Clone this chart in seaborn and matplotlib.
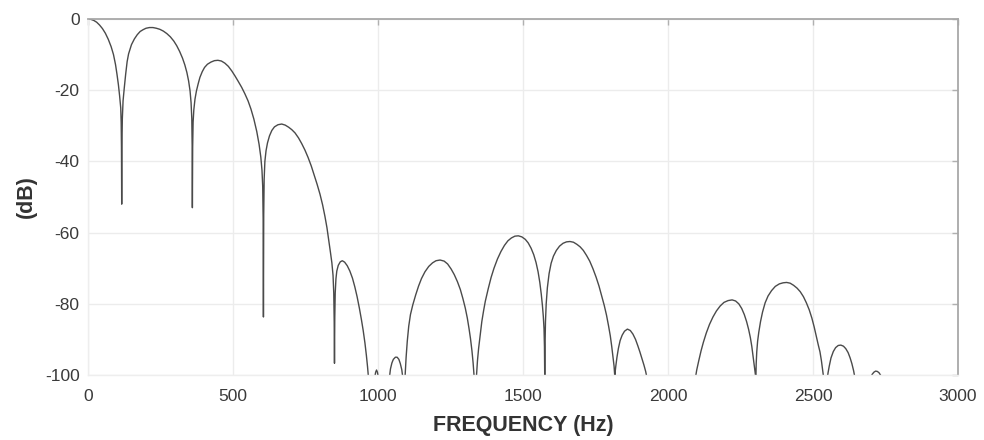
import matplotlib
matplotlib.use("Agg")
import matplotlib.pyplot as plt
import seaborn as sns
import pandas as pd

# Frequency (Hz) and magnitude (dB), lobe by lobe
freq_hz = [
    # main lobe
    0, 10, 20, 30, 40, 50, 60, 70, 80, 88, 95, 100, 105, 109, 113, 114.5, 115.5, 116.3,
    # lobe 2
    117, 118.5, 121, 125, 130, 135, 140, 150, 160, 170, 180, 190, 200, 212, 224, 236, 248, 260,
    272, 284, 296, 306, 316, 326, 334, 341, 347, 352, 355.5, 358, 359.3, 360,
    # lobe 3
    361, 362.5, 365, 369, 374, 380, 386, 394, 402, 412, 424, 436, 448, 460, 472, 484, 496, 507,
    518, 530, 541, 552, 562, 572, 582, 590, 596, 600, 602.5, 604, 605,
    # lobe 4
    606, 607.5, 610, 614, 619, 626, 634, 643, 655, 668, 680, 692, 703, 714, 726, 737, 748, 759,
    770, 780, 790, 800, 809, 817, 824, 830, 836, 841, 845, 847.5, 849, 850,
    # lobe 5
    851, 852.5, 855, 858, 863, 870, 877, 885, 894, 903, 912, 920, 928, 936, 943, 949, 955, 960,
    964, 968, 975,
    # tiny bump near 1000 Hz
    988, 992, 995, 998, 1002, 1015,
    # small lobe near 1060 Hz
    1039, 1043, 1048, 1053, 1060, 1066, 1072, 1077, 1082, 1086, 1089,
    # lobe 6
    1093, 1097, 1101, 1106, 1112, 1120, 1130, 1140, 1150, 1162, 1175, 1188, 1200, 1214, 1228,
    1240, 1252, 1263, 1274, 1284, 1293, 1301, 1308, 1314, 1319, 1324, 1328, 1332, 1336,
    # lobe 7
    1339, 1343, 1347, 1352, 1358, 1364, 1370, 1380, 1390, 1400, 1412, 1424, 1436, 1448, 1460,
    1472, 1484, 1496, 1508, 1518, 1528, 1537, 1545, 1552, 1558, 1563, 1567, 1570, 1572.5, 1574, 1575,
    # lobe 8
    1576, 1577.5, 1580, 1584, 1590, 1597, 1605, 1615, 1626, 1638, 1650, 1662, 1674, 1686, 1697,
    1708, 1719, 1730, 1741, 1752, 1762, 1771, 1780, 1788, 1795, 1801, 1806, 1810, 1814, 1817,
    # lobe 9
    1818, 1820, 1824, 1829, 1835, 1842, 1850, 1860, 1870, 1879, 1888, 1896, 1903, 1910, 1917,
    1923, 1928, 1940,
    # lobe 10
    2080, 2094, 2099, 2106, 2114, 2122, 2132, 2143, 2155, 2167, 2180, 2193, 2207, 2221, 2233,
    2244, 2254, 2263, 2271, 2278, 2284, 2289, 2293, 2297, 2300, 2303,
    # lobe 11
    2304, 2306, 2309, 2313, 2319, 2326, 2335, 2345, 2357, 2370, 2384, 2397, 2409, 2421, 2433,
    2445, 2456, 2467, 2477, 2487, 2496, 2504, 2511, 2518, 2524, 2529, 2533, 2537, 2543,
    # lobe 12
    2549, 2552, 2556, 2562, 2570, 2578, 2587, 2596, 2605, 2613, 2621, 2628, 2634, 2640, 2645, 2660,
    # tiny bump near 2720 Hz
    2698, 2704, 2710, 2716, 2722, 2728, 2734, 2740, 2760, 3000,
]
level_db = [
    # main lobe
    0, -0.1, -0.4, -0.9, -1.7, -2.7, -4.0, -5.7, -7.8, -10, -12.8, -15.5, -18.5, -21.5, -25, -29, -36, -52,
    # lobe 2
    -36, -28, -23, -19.5, -15.5, -12, -9.8, -7.2, -5.6, -4.4, -3.5, -3, -2.6, -2.4, -2.4, -2.6, -2.9, -3.4,
    -4.1, -5.0, -6.2, -7.5, -9.1, -11.0, -12.9, -15.0, -17.4, -20.2, -23.5, -28, -36, -53,
    # lobe 3
    -36, -29, -25.5, -22.5, -20.2, -18.2, -16.4, -14.8, -13.6, -12.7, -12.1, -11.7, -11.6, -11.8, -12.4, -13.3, -14.6, -16.0,
    -17.5, -19.2, -21.0, -23.0, -25.3, -28.1, -31.6, -35.2, -38.8, -42.5, -47, -56, -83.7,
    # lobe 4
    -55, -45, -40, -37, -34.8, -32.8, -31.3, -30.3, -29.7, -29.5, -29.8, -30.4, -31.1, -32, -33.4, -35.0, -36.8, -38.9,
    -41.3, -43.8, -46.4, -49.2, -52.2, -55.4, -58.6, -62, -65.5, -68.5, -72, -77, -85, -96.7,
    # lobe 5
    -84, -77, -73, -70.8, -69.2, -68.2, -67.9, -68.3, -69.3, -70.8, -72.8, -75.2, -78, -81.3, -84.5, -87.5, -91, -94.5,
    -97.7, -101.5, -106,
    # tiny bump near 1000 Hz
    -101, -99.2, -98.6, -99.2, -101, -106,
    # small lobe near 1060 Hz
    -101, -98.3, -96.6, -95.6, -95.0, -95.0, -95.6, -96.8, -98.5, -101, -104,
    # lobe 6
    -101, -95, -90.5, -86.3, -83, -80.3, -77.5, -75, -72.9, -71, -69.5, -68.5, -67.9, -67.7, -68,
    -68.8, -70.2, -71.8, -73.8, -76, -78.6, -81.2, -84, -87, -89.8, -93.2, -96.6, -101, -104,
    # lobe 7
    -101, -96, -92.5, -89, -85, -82, -79.3, -75.8, -72.6, -70, -67.4, -65.3, -63.6, -62.3, -61.5,
    -61, -60.9, -61.2, -61.9, -62.9, -64.4, -66.2, -68.4, -71, -74, -77.3, -80.5, -83.5, -87, -92, -101,
    # lobe 8
    -92, -85, -80, -75.5, -71.5, -68.6, -66.6, -65, -63.8, -63, -62.6, -62.5, -62.7, -63.3, -64,
    -65, -66.4, -68, -70.1, -72.5, -75, -77.7, -80.4, -83.2, -86.2, -89, -92, -94.8, -97.5, -101,
    # lobe 9
    -99, -97.5, -95, -92.5, -90.3, -88.8, -87.7, -87.1, -87.5, -88.5, -90, -91.8, -93.5, -95.3, -97.2,
    -99, -101, -108,
    # lobe 10
    -108, -101, -98.6, -96, -93.2, -90.8, -88.2, -85.8, -83.7, -82, -80.6, -79.6, -79.1, -78.9, -79.2,
    -80, -81.3, -83, -85, -87.2, -89.5, -92, -94.5, -97, -99, -101,
    # lobe 11
    -97, -93.5, -90.5, -88, -85, -82.3, -79.7, -77.8, -76.3, -75.1, -74.4, -74.1, -74, -74.2, -74.8,
    -75.6, -76.6, -78, -79.7, -81.7, -84, -86.5, -89, -91.5, -93.5, -96, -98.5, -101, -105,
    # lobe 12
    -101, -99.3, -97.5, -95.2, -93.4, -92.3, -91.7, -91.6, -91.9, -92.6, -93.7, -95.2, -96.8, -98.8, -101, -108,
    # tiny bump near 2720 Hz
    -101, -99.8, -99.2, -98.9, -99, -99.4, -100.2, -101, -108, -108,
]

x_ticks = [0, 500, 1000, 1500, 2000, 2500, 3000]
y_ticks = [0, -20, -40, -60, -80, -100]

df = pd.DataFrame({"f": freq_hz, "db": level_db})

sns.set_style("white")
plt.rcParams["font.family"] = ["Liberation Sans", "DejaVu Sans"]

fig = plt.figure(figsize=(9.84, 4.4), dpi=100)
ax = fig.add_axes([0.0894, 0.1477, 0.8842, 0.8091])

sns.lineplot(data=df, x="f", y="db", ax=ax, sort=False, estimator=None,
             color="#4a4a4a", linewidth=1.0)

ax.set_xlim(0, 3000)
ax.set_ylim(-100, 0)
ax.set_xticks(x_ticks)
ax.set_yticks(y_ticks)
ax.set_xticklabels([str(t) for t in x_ticks])
ax.set_yticklabels([str(t) for t in y_ticks])

ax.grid(True, color="#ececec", linewidth=1.0)
ax.set_axisbelow(True)

for side in ["top", "right"]:
    ax.spines[side].set_visible(True)
    ax.spines[side].set_color("#a8a8a8")
    ax.spines[side].set_linewidth(1.3)
for side in ["left", "bottom"]:
    ax.spines[side].set_visible(True)
    ax.spines[side].set_color("#eeeeee")
    ax.spines[side].set_linewidth(1.0)

ax.tick_params(axis="both", which="both", direction="in", length=4, width=1,
               color="#b0b0b0", labelsize=12.5, labelcolor="#3a3a3a",
               top=True, right=True)
ax.tick_params(axis="x", pad=10)
ax.tick_params(axis="y", pad=6)

ax.set_xlabel("FREQUENCY (Hz)", fontsize=15.5, fontweight="bold", color="#333333", labelpad=8)
ax.set_ylabel("(dB)", fontsize=15.5, fontweight="bold", color="#333333", labelpad=6)

fig.savefig("out.png", dpi=100)
